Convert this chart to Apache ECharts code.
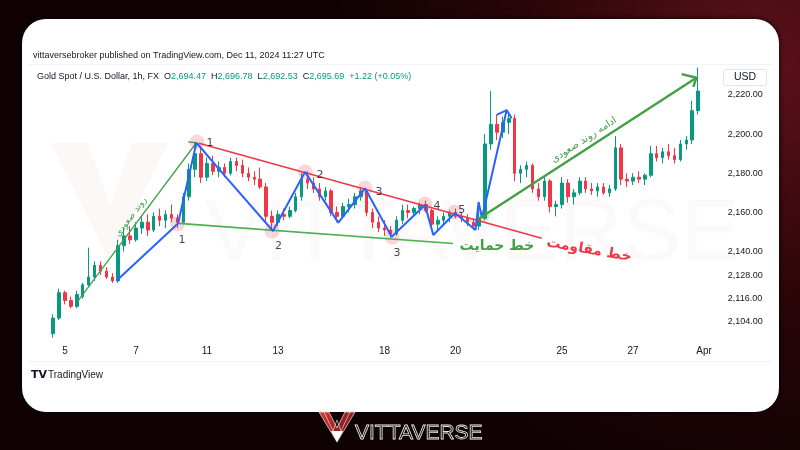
<!DOCTYPE html>
<html><head><meta charset="utf-8">
<script src="https://cdn.jsdelivr.net/npm/echarts@6/dist/echarts.min.js"></script>
<style>html,body{margin:0;padding:0;background:#120203}#c{width:800px;height:450px}</style>
</head><body><div id="c"></div>
<script>
// ---------- data ----------
const dayNames = ['4','5','6','7','8','11','12','13','14','15','18','19','20','21','22','25','26','27','28','Apr'];
const fullDayHours = ['00','04','08','12','16','20'];
const firstDayHours = ['16','20'];
const lastDayHours = ['00','04','08'];
const xTickLabels = ['5','7','11','13','18','20','25','27','Apr'];
const yTickValues = [2104,2116,2128,2140,2160,2180,2200,2220];

const opens = [2098,2106,2119,2115,2112,2117,2123,2127,2133,2130,2127,2125,2143,2148,2146,2152,2155,2151,2158,2156,
2159,2157,2155,2168,2182,2190,2178,2185,2181,2183,2180,2186,2184,2180,2178,2177,2173,2158,2155,2159,
2158,2161,2168,2177,2175,2172,2168,2171,2160,2158,2163,2164,2168,2171,2160,2155,2152,2151,2149,2156,
2161,2160,2162,2164,2161,2154,2156,2158,2160,2158,2157,2155,2153,2157,2195,2205,2201,2206,2208,2180,
2182,2184,2172,2168,2176,2163,2164,2175,2168,2170,2176,2172,2171,2173,2170,2172,2193,2177,2176,2178,
2177,2179,2190,2188,2191,2189,2187,2195,2197,2212];
const closes = [2106,2119,2115,2112,2118,2123,2127,2133,2130,2127,2125,2143,2148,2146,2152,2155,2151,2158,2156,2159,
2157,2155,2168,2182,2190,2178,2185,2181,2183,2180,2186,2184,2180,2178,2177,2173,2158,2155,2159,2158,
2161,2168,2177,2175,2172,2168,2171,2160,2158,2163,2164,2168,2171,2160,2155,2152,2151,2149,2156,2161,
2160,2162,2164,2161,2154,2156,2158,2160,2158,2157,2155,2153,2157,2195,2205,2201,2206,2208,2180,2182,
2184,2172,2168,2176,2163,2164,2175,2168,2170,2176,2172,2171,2173,2170,2172,2193,2177,2176,2178,2177,
2179,2190,2188,2191,2189,2187,2195,2197,2212,2222];
const highs = [2108,2121,2120,2117,2120,2124,2142,2135,2135,2132,2129,2146,2152,2153,2155,2158,2159,2160,2162,2161,
2164,2159,2170,2185,2196,2194,2188,2189,2186,2185,2188,2188,2187,2183,2181,2183,2175,2161,2161,2162,
2163,2170,2180,2181,2178,2175,2173,2172,2163,2165,2167,2170,2173,2172,2162,2158,2156,2153,2158,2164,
2164,2163,2165,2166,2162,2158,2160,2161,2162,2160,2159,2157,2165,2200,2222,2210,2209,2211,2210,2184,
2186,2185,2175,2178,2177,2166,2178,2177,2172,2178,2178,2175,2175,2175,2174,2199,2195,2180,2180,2181,
2180,2194,2194,2193,2195,2193,2197,2199,2217,2234];
const lows = [2096,2105,2113,2111,2111,2116,2122,2125,2128,2126,2124,2124,2140,2144,2145,2149,2148,2150,2153,2152,
2155,2152,2154,2166,2178,2175,2176,2179,2178,2178,2179,2181,2178,2176,2174,2172,2155,2151,2153,2156,
2157,2160,2166,2172,2170,2166,2166,2158,2155,2157,2160,2162,2166,2158,2152,2150,2148,2147,2148,2154,
2157,2158,2159,2160,2151,2150,2153,2155,2157,2155,2153,2151,2151,2156,2192,2197,2198,2200,2176,2175,
2178,2170,2166,2166,2160,2158,2162,2165,2164,2169,2170,2169,2168,2169,2168,2171,2174,2173,2174,2175,
2174,2178,2186,2185,2187,2185,2186,2192,2195,2210];

// annotation lines, [candle index, price]
const uptrendLine = [[4.11,2114.4],[24.21,2195.6]];
const uptrendArrow = [[22.8,2196.0],[24.21,2195.6]];
const blueZigzag = [[10.70,2125.1],[21.10,2154.3],[24.22,2195.6],[29.38,2177.4],[37.15,2150.5],[42.56,2180.7],
  [48.19,2154.8],[52.70,2172.3],[57.21,2147.6],[62.84,2163.8],[64.25,2148.5],[67.91,2159.7],[71.38,2151.0],
  [71.90,2165.3],[72.48,2157.1],[76.65,2212.3]];
const blueArrowHead = [[74.96,2209.8],[76.65,2212.3],[77.49,2208.1]];
const resistanceLine = [[24.64,2195.3],[82.58,2146.8]];
const supportLine = [[21.2,2154.4],[67.57,2144.1]];
const continuationLine = [[72.07,2157.0],[108.71,2228.8]];
const continuationArrow = [[106.22,2230.7],[108.71,2228.8],[108.19,2224.2]];
const pivotCircles = [[21.02,2154.1],[24.31,2196.0],[36.98,2150.5],[42.56,2180.7],[52.70,2172.5],[57.27,2147.4],[62.84,2164.3],[67.91,2160.2]];
const breakoutCircle = [[72.65,2158.2]];
const pivotLabels = [[26.51,2195.6,'1'],[21.77,2145.9,'1'],[38.10,2143.0,'2'],[45.10,2179.1,'2'],[55.07,2170.6,'3'],[58.11,2139.1,'3'],[64.87,2163.0,'4'],[69.05,2161.2,'5']];

const headerText = 'vittaversebroker published on TradingView.com, Dec 11, 2024 11:27 UTC';
const symbolText = 'Gold Spot / U.S. Dollar, 1h, FX';
const ohlcValues = ['2,694.47','2,696.78','2,692.53','2,695.69'];
const changeText = '+1.22 (+0.05%)';

// ---------- build ----------
const categories = [];
dayNames.forEach(d => {
  const hrs = d === '4' ? firstDayHours : (d === 'Apr' ? lastDayHours : fullDayHours);
  hrs.forEach(h => categories.push(d + ' ' + h));
});
const candleData = opens.map((o, i) => [o, closes[i], lows[i], highs[i]]);
const N = categories.length;

const UP = '#089981', DOWN = '#f23645';
const FONT = 'Liberation Sans, Arial, sans-serif';

function lineSeries(data, color, width, z) {
  return {type:'line', xAxisIndex:1, yAxisIndex:0, data, symbol:'none', silent:true, z: z || 5,
    lineStyle:{color, width}, emphasis:{disabled:true}};
}

const chart = echarts.init(document.getElementById('c'), null, {renderer:'canvas'});
const option = {
  animation:false,
  textStyle:{fontFamily:FONT},
  grid:{left:50.2, right:81.2, top:64, bottom:110},
  xAxis:[{
    type:'category', data:categories, boundaryGap:true,
    axisLine:{show:false}, axisTick:{show:false}, splitLine:{show:false},
    axisLabel:{
      color:'#131722', fontSize:10, margin:6, fontFamily:FONT,
      interval:(idx, val) => { const p = val.split(' '); return p[1] === '00' && xTickLabels.indexOf(p[0]) >= 0; },
      formatter: val => val.split(' ')[0]
    }
  },{
    type:'value', min:-0.5, max:N-0.5, show:false
  }],
  yAxis:[{
    type:'value', position:'right', min:2094.81, max:2235.84, scale:true,
    axisLine:{show:false}, axisTick:{show:false}, splitLine:{show:false},
    axisLabel:{customValues:yTickValues, color:'#131722', fontSize:9, margin:9, fontFamily:FONT,
      formatter: v => v.toLocaleString('en-US',{minimumFractionDigits:2, maximumFractionDigits:2})}
  }],
  series:[
    {type:'candlestick', xAxisIndex:0, yAxisIndex:0, data:candleData, barWidth:3, z:3,
      itemStyle:{color:UP, color0:DOWN, borderColor:UP, borderColor0:DOWN, borderWidth:1}},
    {type:'scatter', xAxisIndex:1, yAxisIndex:0, data:pivotCircles, symbolSize:15, silent:true, z:4,
      itemStyle:{color:'rgba(242,54,69,0.25)'}},
    {type:'scatter', xAxisIndex:1, yAxisIndex:0, data:breakoutCircle, symbolSize:13, silent:true, z:4,
      itemStyle:{color:'rgba(76,175,80,0.3)'}},
    lineSeries(uptrendLine, '#43a047', 1.3),
    lineSeries(uptrendArrow, '#43a047', 1.3),
    lineSeries(supportLine, '#4caf50', 1.6),
    lineSeries(resistanceLine, '#f23645', 1.6),
    lineSeries(blueZigzag, '#2962ff', 2, 6),
    lineSeries(blueArrowHead, '#2962ff', 2, 6),
    lineSeries(continuationLine, '#43a047', 2.4, 6),
    lineSeries(continuationArrow, '#43a047', 2.4, 6),
    {type:'scatter', xAxisIndex:1, yAxisIndex:0, data:pivotLabels, symbolSize:0, silent:true, z:8,
      label:{show:true, position:'inside', formatter:p => p.value[2], color:'#131722', fontSize:11, fontFamily:'DejaVu Sans, sans-serif'}}
  ],
  graphic:[
    // background
    {type:'rect', z:-100, shape:{x:0,y:0,width:800,height:450}, silent:true,
      style:{fill:new echarts.graphic.RadialGradient(0.95,0.15,0.95,[{offset:0,color:'#5e121a'},{offset:0.55,color:'#2a0508'},{offset:1,color:'#100203'}])}},
    // card
    {type:'rect', z:-90, shape:{x:22,y:19,width:757,height:393,r:24}, silent:true,
      style:{fill:'#ffffff', shadowBlur:6, shadowColor:'rgba(0,0,0,0.9)'}},
    // watermark
    {type:'polygon', z:-80, silent:true, shape:{points:[[51,143],[88,143],[110,205],[132,143],[168,143],[110,263]]},
      style:{fill:'rgba(190,120,120,0.05)'}},
    {type:'text', z:-80, silent:true, x:205, y:280, style:{text:'VITTAVERSE', font:'300 88px Liberation Sans, Arial, sans-serif', fill:'rgba(190,140,140,0.055)', align:'left', verticalAlign:'bottom'}},
    // separators
    {type:'line', z:-70, silent:true, shape:{x1:28,y1:64.5,x2:772,y2:64.5}, style:{stroke:'#f0f3fa', lineWidth:1}},
    {type:'line', z:-70, silent:true, shape:{x1:28,y1:361.5,x2:772,y2:361.5}, style:{stroke:'#f0f3fa', lineWidth:1}},
    // header
    {type:'text', z:20, silent:true, x:33, y:56, style:{text:headerText, fill:'#131722', font:'9px Liberation Sans, Arial, sans-serif', verticalAlign:'middle'}},
    {type:'text', z:20, silent:true, x:37, y:77, style:{
      text:'{d|' + symbolText + '  O}{g|' + ohlcValues[0] + '}{d|  H}{g|' + ohlcValues[1] + '}{d|  L}{g|' + ohlcValues[2] + '}{d|  C}{g|' + ohlcValues[3] + '}{g|  ' + changeText + '}',
      verticalAlign:'middle',
      rich:{d:{fill:'#131722', fontSize:9, fontFamily:FONT}, g:{fill:'#089981', fontSize:9, fontFamily:FONT}}}},
    // USD box
    {type:'rect', z:20, silent:true, shape:{x:723.5,y:69.5,width:43,height:16,r:2}, style:{fill:'#fff', stroke:'#e0e3eb', lineWidth:1}},
    {type:'text', z:21, silent:true, x:745, y:77.5, style:{text:'USD', fill:'#131722', font:'10.5px Liberation Sans, Arial, sans-serif', align:'center', verticalAlign:'middle'}},
    // annotations text
    {type:'text', z:20, silent:true, x:131, y:217, rotation:0.928, style:{text:'روند صعودی', fill:'#43a047', font:'9px DejaVu Sans, sans-serif', align:'center', verticalAlign:'middle'}},
    {type:'text', z:20, silent:true, x:584, y:140, rotation:0.574, style:{text:'ادامه روند صعودی', fill:'#43a047', font:'10px DejaVu Sans, sans-serif', align:'center', verticalAlign:'middle'}},
    {type:'text', z:20, silent:true, x:497, y:246, style:{text:'خط حمایت', fill:'#43a047', font:'bold 14px DejaVu Sans, sans-serif', align:'center', verticalAlign:'middle'}},
    {type:'text', z:20, silent:true, x:589, y:250, rotation:-0.17, style:{text:'خط مقاومت', fill:'#f23645', font:'bold 14px DejaVu Sans, sans-serif', align:'center', verticalAlign:'middle'}},
    // TradingView footer
    {type:'text', z:20, silent:true, x:31, y:375, style:{text:'TV', fill:'#131722', font:'900 11px DejaVu Sans, sans-serif', verticalAlign:'middle'}},
    {type:'text', z:20, silent:true, x:48, y:375, style:{text:'TradingView', fill:'#131722', font:'10px Liberation Sans, Arial, sans-serif', verticalAlign:'middle'}},
    // bottom logo
    {type:'polygon', z:20, silent:true, shape:{points:[[319,412],[329,412],[337,428],[345,412],[355,412],[337,442]]},
      style:{fill:new echarts.graphic.LinearGradient(0,0,1,1,[{offset:0,color:'#e53935'},{offset:0.6,color:'#8e1b1f'},{offset:1,color:'#5a0d10'}]), stroke:'#d9d9d9', lineWidth:0.8}},
    {type:'polygon', z:21, silent:true, shape:{points:[[331,431],[343,431],[337,442]]}, style:{fill:'#ffffff'}},
    {type:'polyline', z:21, silent:true, shape:{points:[[324,412],[333,431],[337,420],[341,431],[350,412]]}, style:{stroke:'rgba(255,255,255,0.7)', lineWidth:0.8, fill:null}},
    {type:'text', z:20, silent:true, x:355, y:433, style:{text:'VITTAVERSE', fill:'rgba(0,0,0,0)', stroke:'#e6e6e6', lineWidth:0.8, font:'21px Liberation Sans, Arial, sans-serif', verticalAlign:'middle'}}
  ]
};
chart.setOption(option);
</script></body></html>
